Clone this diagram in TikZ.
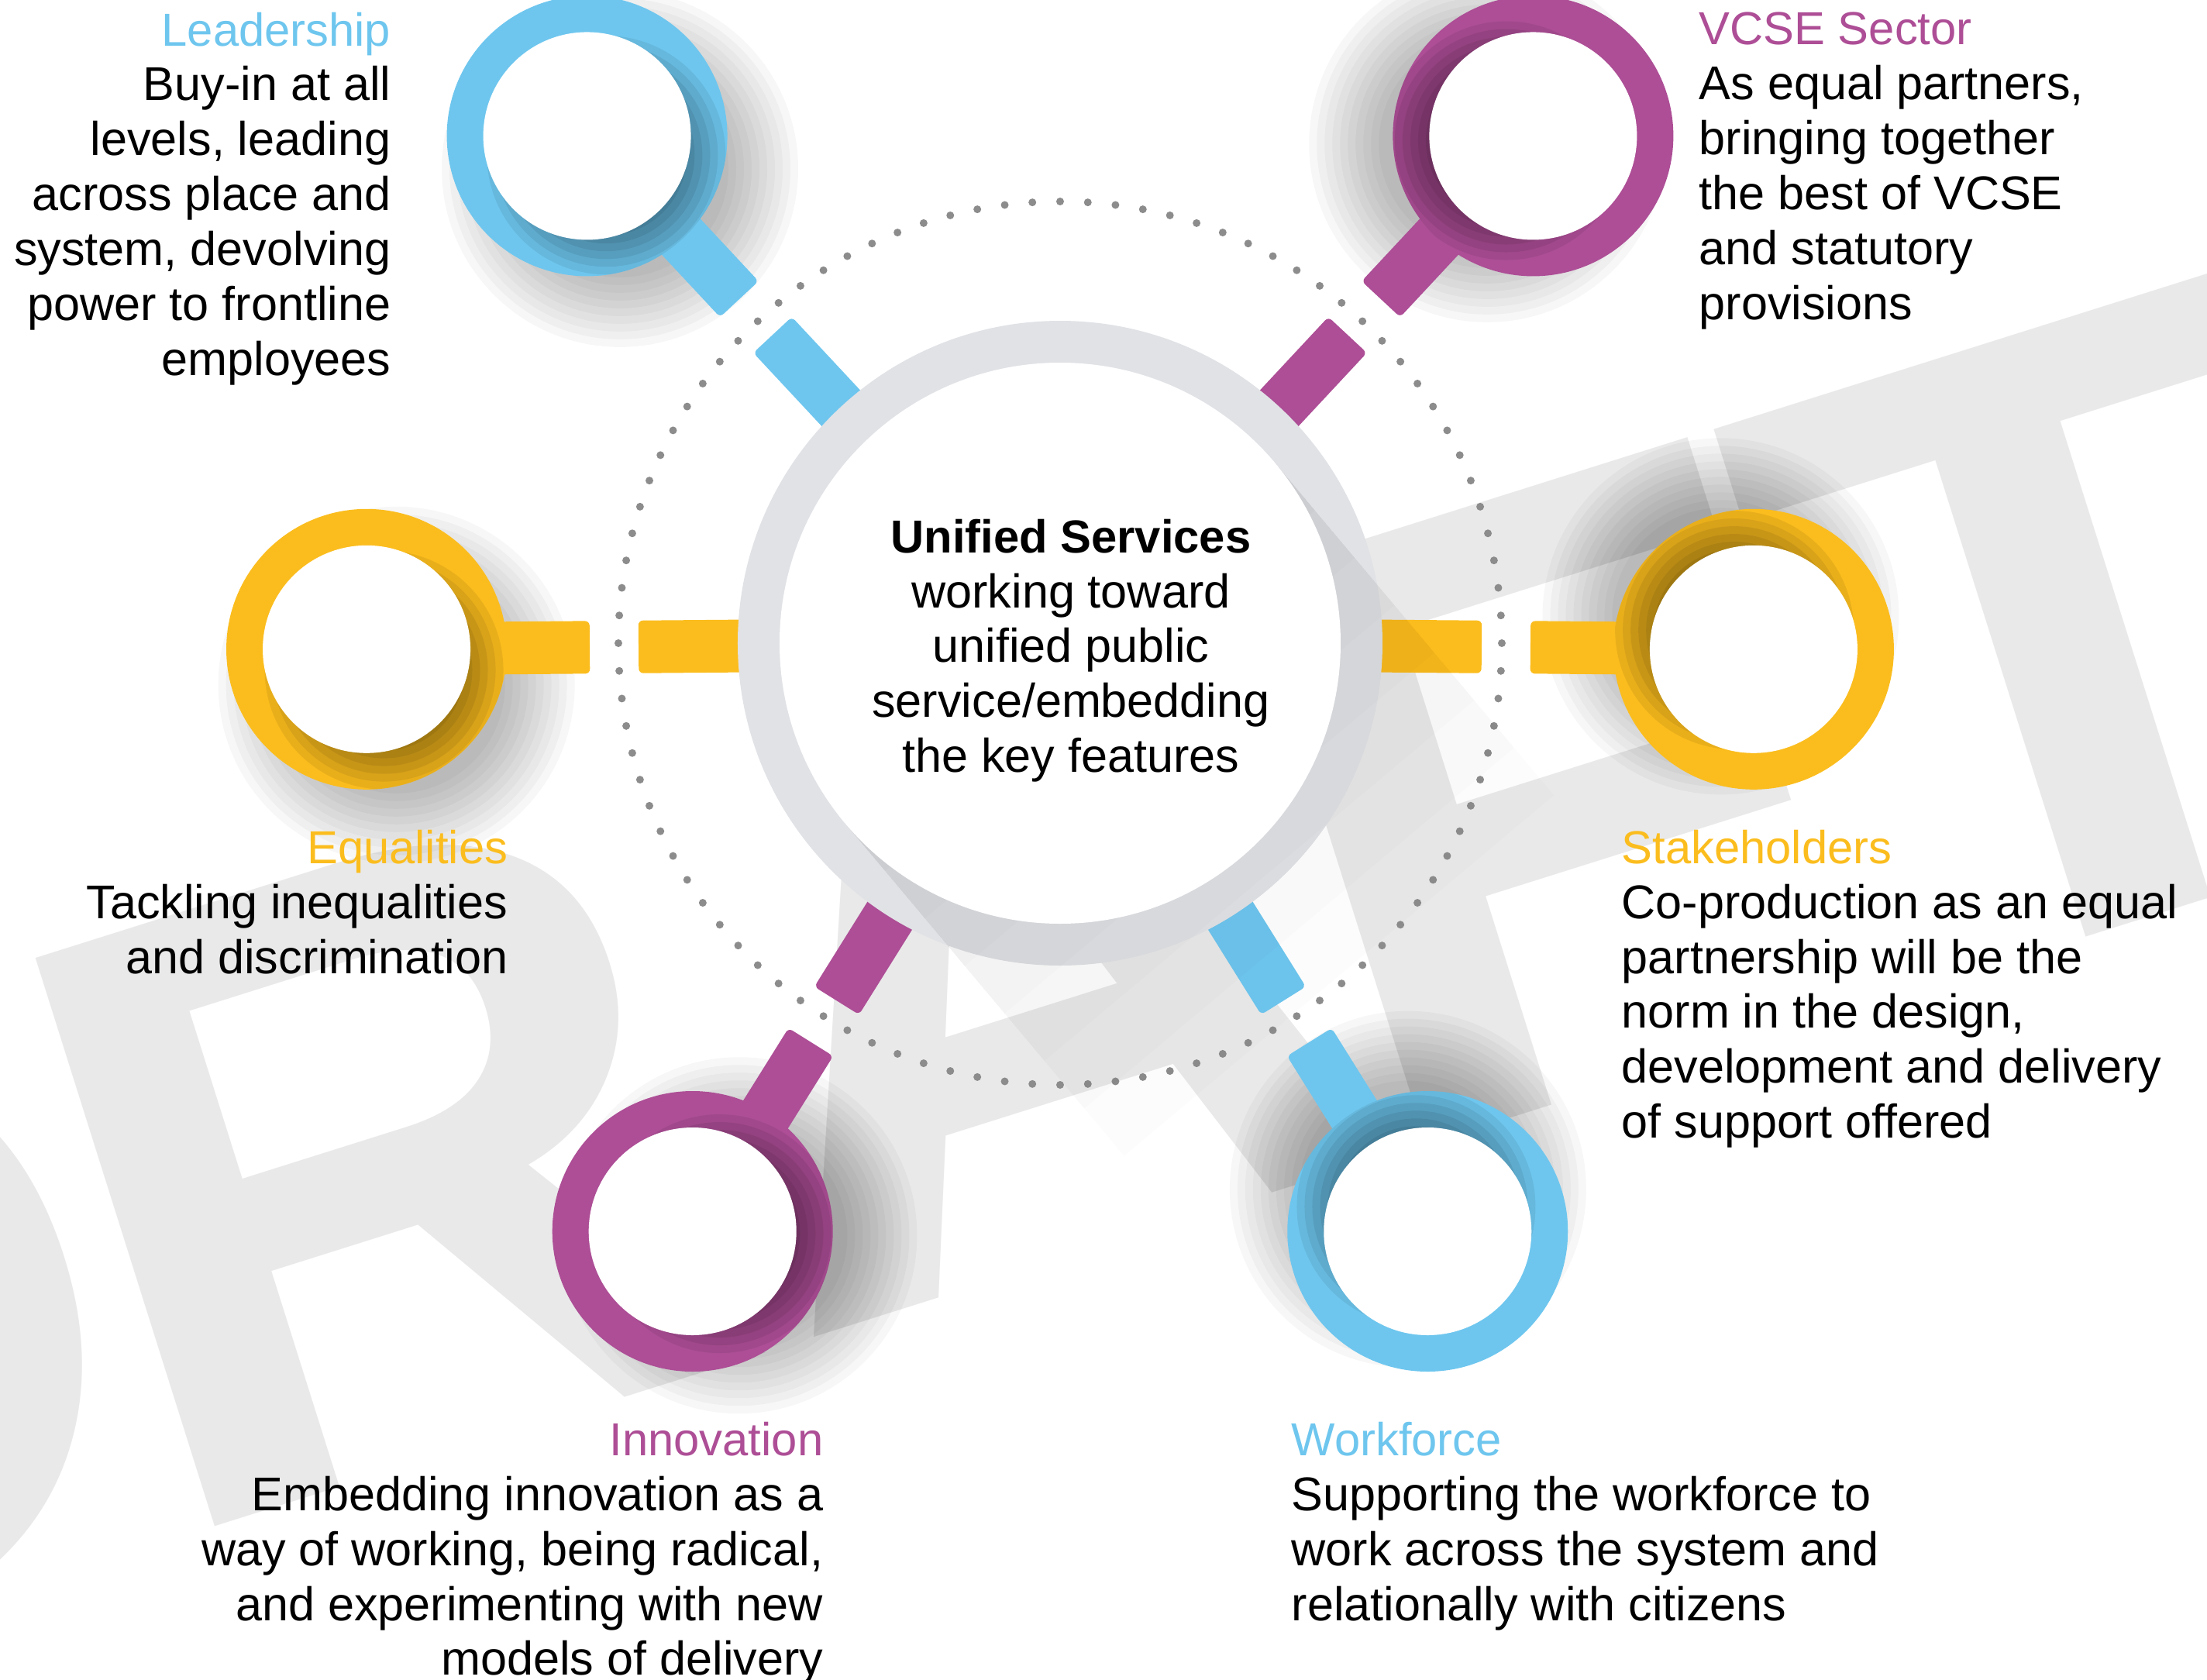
\documentclass[tikz,border=0pt]{standalone}
\usepackage{fontspec}
\setmainfont{Liberation Sans}
\usetikzlibrary{calc}

\definecolor{lblue}{HTML}{6EC6EE}
\definecolor{mpurple}{HTML}{AD4E96}
\definecolor{myellow}{HTML}{FBBD1E}
\definecolor{ringgray}{HTML}{E1E2E6}
\definecolor{dotgray}{HTML}{8C8C8C}
\definecolor{wmgray}{HTML}{E9E9E9}

\tikzset{
  blurb/.style={font=\fontsize{17.4pt}{20.2pt}\selectfont, inner sep=0pt},
  wmletter/.style={wmgray, font=\fontsize{318pt}{318pt}\selectfont\bfseries, transform shape,
                   xscale=1.05, anchor=base west, inner sep=0pt},
}

\begin{document}
\begin{tikzpicture}
  \useasboundingbox (-13.68,8.30) rectangle (14.80,-13.37);

  % watermark
  \begin{scope}[shift={(-10.81,-11.37)}, rotate=17.5]
    \node[wmletter] (wmd) at (-8.89,0) {D};
    \node[wmletter] (wmr) at (-0.89,0) {R};
    \node[wmletter] (wma) at (7.71,0) {A};
    \node[wmletter] (wmf) at (15.51,0) {F};
    \node[wmletter] (wmt) at (22.47,0) {T};
  \end{scope}

  % soft shadows behind the rings
  \foreach \a/\dk/\nm in {133/-45/lead, 47/190/vcse, 180.5/-50/equal, -0.5/135/stake, 238/-5/innov, 302/115/work} {
    \coordinate (\nm) at (\a:8.95);
    \foreach \r in {1.4,1.5,...,2.4}
      \fill[black, opacity=.03] ($(\nm)+(\dk:0.6)$) circle (\r);
  }

  % dotted ring
  \foreach \i in {0,...,99}
    \fill[dotgray] (\i*3.6:5.70) circle (0.05);

  % handles
  \foreach \a/\col in {133/lblue, 47/mpurple, 180.5/myellow, -0.5/myellow, 238/mpurple, 302/lblue} {
    \begin{scope}[rotate=\a]
      \fill[\col, rounded corners=0.6mm] (3.8,-0.34) rectangle (5.44,0.34);
      \fill[\col, rounded corners=0.6mm] (6.07,-0.34) rectangle (7.6,0.34);
    \end{scope}
  }

  % rings
  \foreach \col/\dk/\nm in {lblue/-45/lead, mpurple/190/vcse, myellow/-50/equal, myellow/135/stake, mpurple/-5/innov, lblue/115/work} {
    \fill[\col] (\nm) circle (1.81);
    \begin{scope}
      \clip (\nm) circle (1.81);
      \foreach \r in {1.04,1.14,...,1.64}
        \fill[black, opacity=.07] ($(\nm)+(\dk:0.35)$) circle (\r);
    \end{scope}
    \fill[white] (\nm) circle (1.34);
  }

  % centre
  \fill[ringgray] (0,0) coordinate (hub) circle (4.16);
  \foreach \L in {0.8,1.6,...,6.4}
    \fill[black, opacity=.012] (40:3.62) -- ++(-50:\L) -- ++(-140:7.24) -- (-140:3.62) -- cycle;
  \fill[white] (hub) circle (3.62);

  \node[blurb, anchor=north, align=center] (hubtxt) at (0.14,1.61)
    {{\fontsize{17pt}{20.2pt}\selectfont\bfseries Unified Services}\\working toward\\unified public\\service/embedding\\the key features};

  \node[blurb, anchor=north east, align=right] (leadtxt) at (-8.63,8.15)
    {\textcolor{lblue}{\fontsize{17pt}{20.2pt}\selectfont Leadership}\\Buy-in at all\\levels, leading\\across place and\\system, devolving\\power to frontline\\employees};
  \node[blurb, anchor=north west, align=left] (vcsetxt) at (8.24,8.15)
    {\textcolor{mpurple}{\fontsize{17pt}{20.2pt}\selectfont VCSE Sector}\\As equal partners,\\bringing together\\the best of VCSE\\and statutory\\provisions};
  \node[blurb, anchor=north east, align=right] (equaltxt) at (-7.12,-2.40)
    {\textcolor{myellow}{\fontsize{17pt}{20.2pt}\selectfont Equalities}\\Tackling inequalities\\and discrimination};
  \node[blurb, anchor=north west, align=left] (staketxt) at (7.24,-2.40)
    {\textcolor{myellow}{\fontsize{17pt}{20.2pt}\selectfont Stakeholders}\\Co-production as an equal\\partnership will be the\\norm in the design,\\development and delivery\\of support offered};
  \node[blurb, anchor=north east, align=right] (innovtxt) at (-3.05,-10.04)
    {\textcolor{mpurple}{\fontsize{17pt}{20.2pt}\selectfont Innovation}\\Embedding innovation as a\\way of working, being radical,\\and experimenting with new\\models of delivery};
  \node[blurb, anchor=north west, align=left] (worktxt) at (2.98,-10.04)
    {\textcolor{lblue}{\fontsize{17pt}{20.2pt}\selectfont Workforce}\\Supporting the workforce to\\work across the system and\\relationally with citizens};
\end{tikzpicture}
\end{document}
